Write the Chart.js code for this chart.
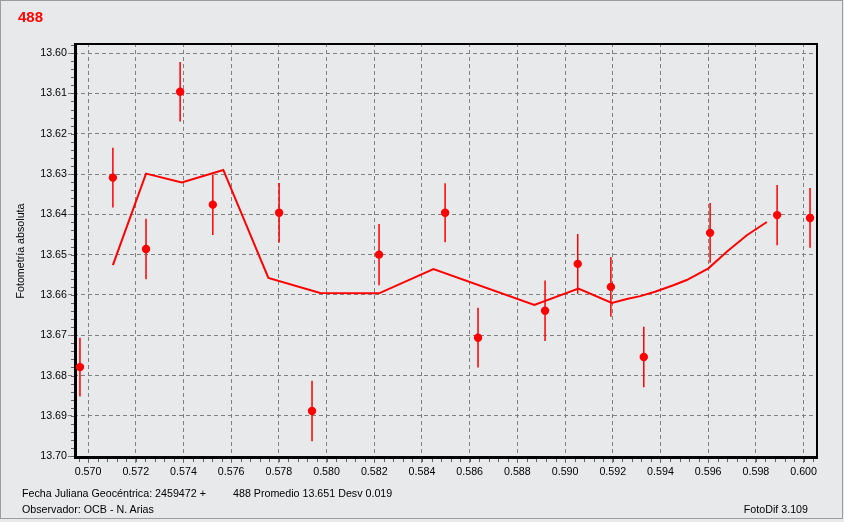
<!DOCTYPE html>
<html>
<head>
<meta charset="utf-8">
<script src="https://cdn.jsdelivr.net/npm/chart.js@4"></script>
<style>
  body { margin: 0; background: #f0f0f0; }
  .wrap { position: relative; width: 844px; height: 522px; background: #e8e9eb; }
  .frame { position: absolute; left: 0; top: 0; width: 841px; height: 517px; border: 1px solid #9c9c9c; pointer-events: none; }
  .txt { position: absolute; font-family: "Liberation Sans", Arial, sans-serif; font-size: 10.7px; line-height: 13px; color: #000; white-space: nowrap; }
  #title { left: 18px; top: 8px; font-size: 15px; line-height: 18px; font-weight: bold; color: #ff0000; }
</style>
</head>
<body>
<div class="wrap">
  <canvas id="chart" width="844" height="522"></canvas>
  <div class="frame"></div>
  <div class="txt" id="title">488</div>
  <div class="txt" style="left:22px;top:487px">Fecha Juliana Geocéntrica: 2459472 +</div>
  <div class="txt" style="left:233px;top:487px">488 Promedio 13.651 Desv 0.019</div>
  <div class="txt" style="left:22px;top:503px">Observador: OCB - N. Arias</div>
  <div class="txt" style="right:36px;top:503px">FotoDif 3.109</div>
</div>
<script>
// observations (JD fraction, magnitude, error)
const obsX = [0.56966, 0.57104, 0.57243, 0.57386, 0.57523, 0.57801, 0.57939, 0.58220, 0.58497,
  0.58635, 0.58916, 0.59053, 0.59192, 0.59330, 0.59608, 0.59889, 0.60027];
const obsY = [13.6779, 13.6309, 13.6486, 13.6096, 13.6376, 13.6396, 13.6888, 13.6500, 13.6396,
  13.6706, 13.6639, 13.6523, 13.6580, 13.6754, 13.6446, 13.6402, 13.6409];
const obsErr = [0.0073, 0.0074, 0.0075, 0.0074, 0.0075, 0.0074, 0.0075, 0.0076, 0.0073,
  0.0074, 0.0075, 0.0074, 0.0074, 0.0075, 0.0074, 0.0075, 0.0074];

// running mean curve
const avgX = [0.57104, 0.57243, 0.57393, 0.57567, 0.57756, 0.57973, 0.58220, 0.58448, 0.58871, 0.59056,
  0.59196, 0.59259, 0.59315, 0.59377, 0.59454, 0.59510, 0.59601, 0.59678, 0.59762, 0.59846];
const avgY = [13.6526, 13.6299, 13.6321, 13.6290, 13.6558, 13.6595, 13.6596, 13.6536, 13.6625, 13.6584,
  13.6620, 13.6610, 13.6603, 13.6592, 13.6576, 13.6563, 13.6534, 13.6493, 13.6452, 13.6419];

const xTicks = [0.570, 0.572, 0.574, 0.576, 0.578, 0.580, 0.582, 0.584, 0.586, 0.588,
  0.590, 0.592, 0.594, 0.596, 0.598, 0.600];
const yTicks = [13.60, 13.61, 13.62, 13.63, 13.64, 13.65, 13.66, 13.67, 13.68, 13.69, 13.70];
const xRange = [0.56941, 0.60052];
const yRange = [13.5975, 13.7007];
const xMinorStep = 0.0004;
const yMinorStep = 0.002;

const RED = "#ff0000";
const tickFont = { family: "'Liberation Sans', Arial, sans-serif", size: 10.7 };

// error bars, frame and minor ticks
const extras = {
  id: "extras",
  beforeDatasetsDraw(chart) {
    const { ctx, chartArea: a } = chart;
    const xs = chart.scales.x, ys = chart.scales.y;
    ctx.save();
    // frame
    ctx.strokeStyle = "#000";
    ctx.lineWidth = 2;
    ctx.beginPath();
    ctx.moveTo(a.left, a.top + 1);
    ctx.lineTo(a.right + 1, a.top + 1);
    ctx.lineTo(a.right + 1, a.bottom);
    ctx.stroke();
    ctx.lineWidth = 3;
    ctx.beginPath();
    ctx.moveTo(a.left + 1.5, a.top);
    ctx.lineTo(a.left + 1.5, a.bottom - 1.5);
    ctx.lineTo(a.right + 2, a.bottom - 1.5);
    ctx.stroke();
    // minor ticks
    ctx.strokeStyle = "#606060";
    ctx.lineWidth = 1;
    ctx.beginPath();
    for (let i = Math.ceil(xRange[0] / xMinorStep); i <= Math.floor(xRange[1] / xMinorStep); i++) {
      const px = Math.round(xs.getPixelForValue(i * xMinorStep)) + 0.5;
      ctx.moveTo(px, a.bottom);
      ctx.lineTo(px, a.bottom + 3);
    }
    for (let i = Math.ceil(yRange[0] / yMinorStep); i <= Math.floor(yRange[1] / yMinorStep); i++) {
      const py = Math.round(ys.getPixelForValue(i * yMinorStep)) + 0.5;
      ctx.moveTo(a.left - 3, py);
      ctx.lineTo(a.left, py);
    }
    ctx.stroke();
    // error bars
    ctx.strokeStyle = RED;
    ctx.lineWidth = 1.5;
    ctx.beginPath();
    obsX.forEach((x, i) => {
      const px = xs.getPixelForValue(x);
      ctx.moveTo(px, ys.getPixelForValue(obsY[i] - obsErr[i]));
      ctx.lineTo(px, ys.getPixelForValue(obsY[i] + obsErr[i]));
    });
    ctx.stroke();
    ctx.restore();
  },
};

new Chart(document.getElementById("chart"), {
  data: {
    datasets: [
      {
        type: "line",
        data: avgX.map((x, i) => ({ x, y: avgY[i] })),
        borderColor: RED,
        borderWidth: 2,
        pointRadius: 0,
        tension: 0,
        fill: false,
      },
      {
        type: "scatter",
        data: obsX.map((x, i) => ({ x, y: obsY[i] })),
        backgroundColor: RED,
        borderColor: RED,
        borderWidth: 0,
        pointRadius: 4.2,
      },
    ],
  },
  options: {
    responsive: false,
    animation: false,
    devicePixelRatio: 1,
    layout: { padding: { top: 43, right: 28, left: 0, bottom: 0 } },
    plugins: { legend: { display: false }, tooltip: { enabled: false } },
    scales: {
      x: {
        type: "linear",
        min: xRange[0],
        max: xRange[1],
        afterBuildTicks: (s) => { s.ticks = xTicks.map((v) => ({ value: v })); },
        afterFit: (s) => { s.height = 63; },
        ticks: { color: "#000", font: tickFont, padding: 2, maxRotation: 0, callback: (v) => v.toFixed(3) },
        grid: { color: "#808080", lineWidth: 1, tickLength: 5, tickBorderDash: [4, 3] },
        border: { display: false, dash: [4, 3] },
      },
      y: {
        type: "linear",
        reverse: true,
        min: yRange[0],
        max: yRange[1],
        afterBuildTicks: (s) => { s.ticks = yTicks.map((v) => ({ value: v })); },
        afterFit: (s) => { s.width = 74; },
        ticks: { color: "#000", font: tickFont, padding: 1, callback: (v) => v.toFixed(2) },
        grid: { color: "#808080", lineWidth: 1, tickLength: 6, tickBorderDash: [4, 3] },
        border: { display: false, dash: [4, 3] },
        title: {
          display: true,
          text: "Fotometría absoluta",
          color: "#000",
          font: tickFont,
          padding: { top: 15, bottom: 0 },
        },
      },
    },
  },
  plugins: [extras],
});
</script>
</body>
</html>
